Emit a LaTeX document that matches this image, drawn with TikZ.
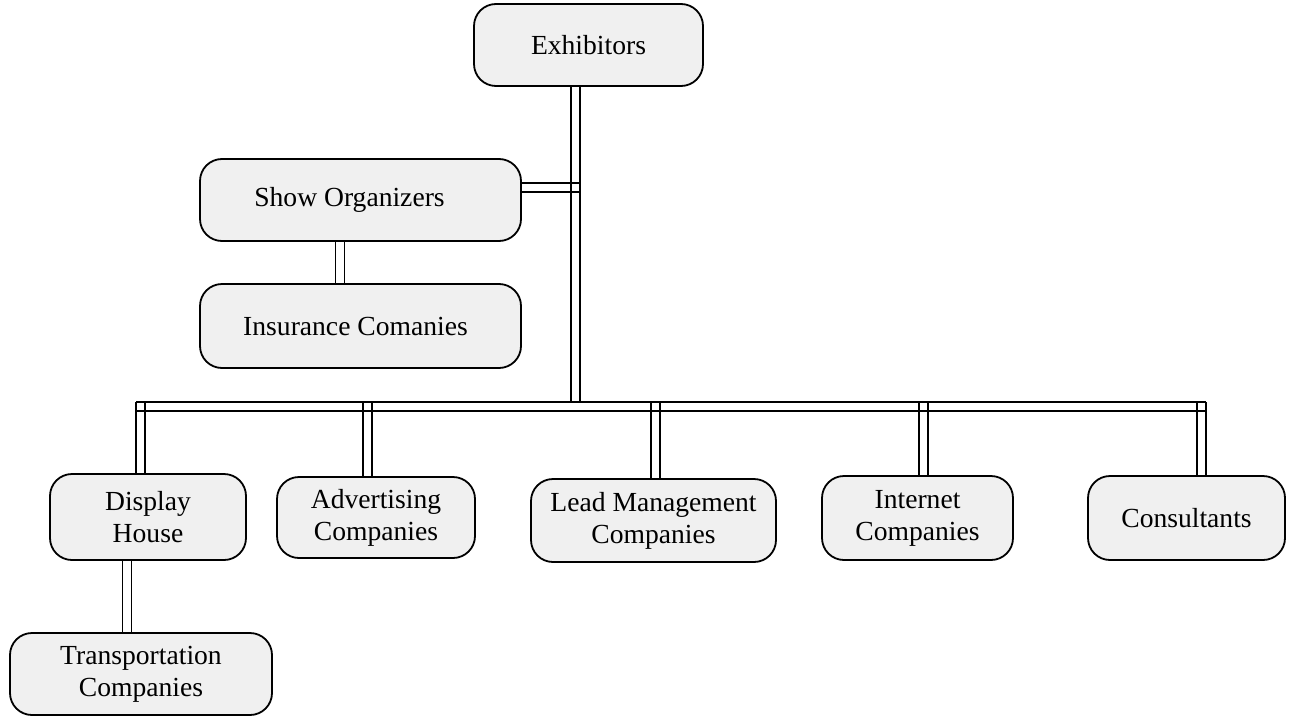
\documentclass[tikz,border=0pt]{standalone}
\usepackage{fontspec}
\setmainfont{Liberation Serif}
\usepackage{xcolor}
\definecolor{boxGray}{HTML}{F0F0F0}
\usepackage{tikz}
\usetikzlibrary{positioning}

\begin{document}
\begin{tikzpicture}[
		x=0.5pt, y=-0.5pt,
		box/.style={
			draw,
			line width=0.9pt,
			rounded corners=11pt,
			fill=boxGray,
			align=center,
			inner sep=2pt,
			font=\fontsize{13.8}{16}\selectfont
		},
		rail/.style={line width=0.9pt}
		]
		\useasboundingbox (0,0) rectangle (1299,717);
		
		% top level and the left branch
		\node[box, minimum width=114.5pt, minimum height=41pt] (exhib) at (588.5,45) {Exhibitors};
		\node[box, minimum width=160.5pt, minimum height=41pt] (show) at (360.5,200) {\hspace*{-11pt}Show Organizers};
		\node[box, minimum width=160.5pt, minimum height=42pt] (insur) at (360.5,326) {\hspace*{-5pt}Insurance Comanies};
		
		% bottom row
		\node[box, minimum width=98pt, minimum height=43pt] (display) at (148,517) {Display\\House};
		\node[box, minimum width=99pt, minimum height=40.5pt] (advert) at (376,517.5) {Advertising\\Companies};
		\node[box, minimum width=122.5pt, minimum height=41.5pt] (lead) at (653.5,520.5) {Lead Management\\Companies};
		\node[box, minimum width=95.5pt, minimum height=42pt] (internet) at (917.5,518) {Internet\\Companies};
		\node[box, minimum width=98.5pt, minimum height=42pt] (consult) at (1186.5,518) {Consultants};
		\node[box, minimum width=131pt, minimum height=41pt] (transport) at (141,674) {Transportation\\Companies};
		
		% double rails
		\coordinate (hub) at (575.5,406.5);
		\coordinate (barW) at (136,406.5);
		\coordinate (barE) at (1206,406.5);
		\coordinate (tee) at (581,187.5);
		
		\foreach \s in {-2.25,2.25}{
			\draw[rail, transform canvas={xshift=\s pt}] (exhib.south -| hub) -- ([yshift=2.25pt]hub);
			\draw[rail, transform canvas={yshift=\s pt}] (barW) -- (barE);
			\draw[rail, transform canvas={yshift=\s pt}] (show.east |- tee) -- (tee);
			\draw[rail, transform canvas={xshift=\s pt}] (show.south -| 340,0) -- (insur.north -| 340,0);
			\draw[rail, transform canvas={xshift=\s pt}] (display.south -| 127,0) -- (transport.north -| 127,0);
		}
		\foreach \n/\x in {display/140.5, advert/367.5, lead/655.5, internet/923.5, consult/1201.5}
			\foreach \s in {-2.25,2.25}
				\draw[rail, transform canvas={xshift=\s pt}] (\x,402) -- (\n.north -| \x,0);
		
	\end{tikzpicture}
\end{document}
